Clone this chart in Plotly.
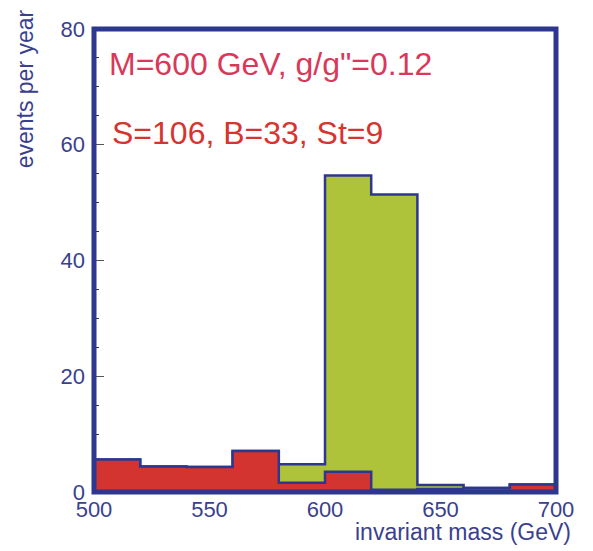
import plotly.graph_objects as go

# Data (20 GeV bins)
bin_edges = [500, 520, 540, 560, 580, 600, 620, 640, 660, 680, 700]
background = [5.6, 4.4, 4.3, 7.1, 1.6, 3.5, 0.4, 0.5, 0.7, 1.3]
signal = [0, 0, 0, 0, 3.2, 51.2, 51.0, 0.7, 0, 0]
x_ticks = [500, 550, 600, 650, 700]
y_ticks = [0, 20, 40, 60, 80]
label1 = 'M=600 GeV, g/g"=0.12'
label2 = "S=106, B=33, St=9"
x_title = "invariant mass (GeV)"
y_title = "events per year"

NAVY = "#2e3790"
TXT = "#3a3f8f"
RED = "#d3342f"
GREEN = "#aec33a"
FONT = "Liberation Sans, Arial, sans-serif"

total = [b + s for b, s in zip(background, signal)]


def step(vals):
    xs = [bin_edges[0]] + bin_edges + [bin_edges[-1]]
    ys = [0] + list(vals) + [vals[-1], 0]
    return xs, ys


fig = go.Figure()
tx, ty = step(total)
fig.add_trace(go.Scatter(x=tx, y=ty, mode="lines", line=dict(shape="hv", color=NAVY, width=2.5),
                         fill="tozeroy", fillcolor=GREEN, hoverinfo="skip"))
bx, by = step(background)
fig.add_trace(go.Scatter(x=bx, y=by, mode="lines", line=dict(shape="hv", color=NAVY, width=2.5),
                         fill="tozeroy", fillcolor=RED, hoverinfo="skip"))

fig.update_layout(
    width=593, height=551,
    margin=dict(l=94, r=37, t=29, b=59),
    paper_bgcolor="white", plot_bgcolor="white",
    showlegend=False,
    font=dict(family=FONT, color=TXT, size=22),
    xaxis=dict(range=[500, 700], tickvals=x_ticks, ticks="inside", ticklen=8, tickcolor="#555",
               tickwidth=1, showgrid=False, zeroline=False, showline=False, layer="below traces",
               tickfont=dict(size=22, color=TXT), ticklabelstandoff=2),
    yaxis=dict(range=[0, 80], tickvals=y_ticks, ticks="inside", ticklen=10, tickcolor="#555",
               tickwidth=1, showgrid=False, zeroline=False, showline=False, layer="below traces",
               tickfont=dict(size=22, color=TXT), ticklabelstandoff=8,
               minor=dict(ticks="inside", dtick=5, ticklen=5, tickcolor="#333", tickwidth=1)),
    shapes=[dict(type="rect", xref="paper", yref="paper", x0=0, x1=1, y0=0, y1=1,
                 line=dict(color=NAVY, width=5), layer="above")],
    annotations=[
        dict(text=label1, xref="paper", yref="paper", x=0.028, y=0.9244, xanchor="left",
             yanchor="middle", showarrow=False, font=dict(size=32, color="#d9385a", family=FONT)),
        dict(text=label2, xref="paper", yref="paper", x=0.034, y=0.7754, xanchor="left",
             yanchor="middle", showarrow=False, font=dict(size=32, color="#d6352f", family=FONT)),
        dict(text=x_title, xref="paper", yref="paper", x=1.0368, y=-0.0864, xanchor="right",
             yanchor="middle", showarrow=False, font=dict(size=23, color=TXT, family=FONT)),
        dict(text=y_title, xref="paper", yref="paper", x=-0.149, y=0.870, xanchor="center",
             yanchor="middle", textangle=-90, showarrow=False,
             font=dict(size=23, color=TXT, family=FONT)),
    ],
)

fig.write_html("out.html")
